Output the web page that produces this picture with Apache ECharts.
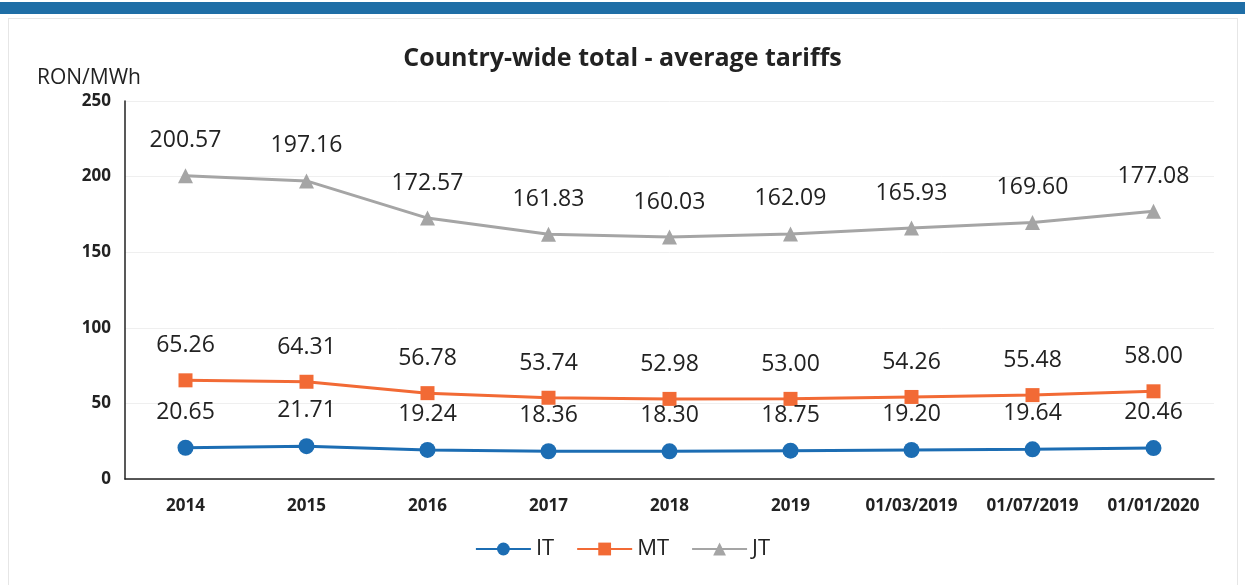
<!DOCTYPE html>
<html>
<head>
<meta charset="utf-8">
<script src="https://cdn.jsdelivr.net/npm/echarts@6/dist/echarts.min.js"></script>
<style>
  html, body { margin: 0; padding: 0; background: #fff; }
  #topbar { position: absolute; left: 0; top: 2px; width: 1245px; height: 12px; background: #1f6ea6; }
  #frame { position: absolute; left: 8px; top: 18px; width: 1228px; height: 570px; border: 1px solid #e6e6e6; border-bottom: none; }
  #chart { position: absolute; left: 0; top: 0; width: 1245px; height: 585px; }
</style>
</head>
<body>
<div id="topbar"></div>
<div id="frame"></div>
<div id="chart"></div>
<script>
// Periods on the category axis
const categories = ['2014', '2015', '2016', '2017', '2018', '2019', '01/03/2019', '01/07/2019', '01/01/2020'];
// Average tariffs, RON/MWh
const itValues = [20.65, 21.71, 19.24, 18.36, 18.30, 18.75, 19.20, 19.64, 20.46];
const mtValues = [65.26, 64.31, 56.78, 53.74, 52.98, 53.00, 54.26, 55.48, 58.00];
const jtValues = [200.57, 197.16, 172.57, 161.83, 160.03, 162.09, 165.93, 169.60, 177.08];
const yTicks = [0, 50, 100, 150, 200, 250];

const font = 'Open Sans, Liberation Sans, sans-serif';

function series(name, data, color, symbol, size) {
  return {
    name: name,
    type: 'line',
    data: data,
    symbol: symbol,
    symbolSize: size,
    itemStyle: { color: color },
    lineStyle: { color: color, width: 3 },
    label: {
      show: true,
      position: 'top',
      distance: 16,
      color: '#222',
      fontSize: 23,
      fontFamily: font,
      formatter: p => p.value.toFixed(2)
    }
  };
}

const chart = echarts.init(document.getElementById('chart'), null, { renderer: 'canvas' });
chart.setOption({
  backgroundColor: 'transparent',
  animation: false,
  title: {
    text: 'Country-wide total - average tariffs',
    left: 'center',
    top: 41,
    textStyle: { fontFamily: font, fontWeight: 'bold', fontSize: 25, color: '#222' }
  },
  legend: {
    bottom: 20,
    left: 'center',
    itemWidth: 55,
    itemHeight: 16,
    itemGap: 22,
    textStyle: { fontFamily: font, fontSize: 22, color: '#222' },
    data: ['IT', 'MT', 'JT']
  },
  grid: { left: 125, right: 31, top: 101, bottom: 106 },
  xAxis: {
    type: 'category',
    data: categories,
    boundaryGap: true,
    axisLine: { lineStyle: { color: '#222', width: 1.5 } },
    axisTick: { show: false },
    axisLabel: { color: '#222', fontFamily: font, fontWeight: 'bold', fontSize: 17, margin: 19 }
  },
  yAxis: {
    type: 'value',
    min: yTicks[0],
    max: yTicks[yTicks.length - 1],
    interval: 50,
    name: 'RON/MWh',
    nameLocation: 'end',
    nameGap: 12,
    nameTextStyle: { color: '#222', fontFamily: font, fontSize: 21, align: 'center', padding: [0, 0, 0, -72] },
    axisLine: { show: true, lineStyle: { color: '#222', width: 1.5 } },
    axisTick: { show: false },
    axisLabel: { color: '#222', fontFamily: font, fontWeight: 'bold', fontSize: 17, margin: 14 },
    splitLine: { lineStyle: { color: '#efefef', width: 1 } }
  },
  series: [
    series('IT', itValues, '#1c6db3', 'circle', 16),
    series('MT', mtValues, '#f26a35', 'rect', 14),
    series('JT', jtValues, '#a5a5a5', 'triangle', 15)
  ]
});
</script>
</body>
</html>
